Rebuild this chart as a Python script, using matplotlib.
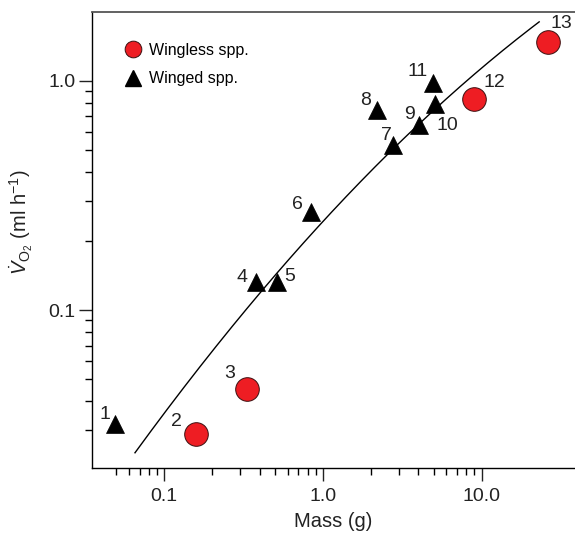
import matplotlib
matplotlib.use("Agg")
import numpy as np
import matplotlib.pyplot as plt
from matplotlib.lines import Line2D
from matplotlib.ticker import FixedLocator, FixedFormatter, NullFormatter

plt.rcParams['font.family'] = ['Liberation Sans', 'DejaVu Sans']
plt.rcParams['mathtext.fontset'] = 'custom'
plt.rcParams['mathtext.rm'] = 'Liberation Sans'
plt.rcParams['mathtext.it'] = 'Liberation Sans:italic'
plt.rcParams['mathtext.bf'] = 'Liberation Sans:bold'

# ---- data ----
wingless_ids = [2, 3, 12, 13]
wingless_mass = [0.158, 0.330, 9.0, 26.4]
wingless_vo2 = [0.0288, 0.0452, 0.832, 1.479]

winged_ids = [1, 4, 5, 6, 7, 8, 9, 10, 11]
winged_mass = [0.049, 0.376, 0.514, 0.837, 2.77, 2.19, 4.02, 5.11, 4.92]
winged_vo2 = [0.0317, 0.1324, 0.1324, 0.2676, 0.524, 0.745, 0.639, 0.793, 0.982]

# points
fit_mass = [0.0654, 0.160, 0.259, 0.419, 0.953, 1.966, 3.037, 5.97, 9.67, 23.07]
fit_vo2 = [0.0241, 0.0530, 0.0818, 0.1264, 0.2348, 0.3947, 0.5157, 0.852, 1.151, 1.767]

x_ticks = [0.1, 1.0, 10.0]
x_tick_labels = ["0.1", "1.0", "10.0"]
y_ticks = [0.1, 1.0]
y_tick_labels = ["0.1", "1.0"]
x_minor = [0.05, 0.06, 0.07, 0.08, 0.09, 0.2, 0.3, 0.4, 0.5, 0.6, 0.7, 0.8, 0.9,
           2, 3, 4, 5, 6, 7, 8, 9]
y_minor = [0.03, 0.04, 0.05, 0.06, 0.07, 0.08, 0.09, 0.2, 0.3, 0.4, 0.5, 0.6, 0.7, 0.8, 0.9]

# label offsets (pixels) for number annotations
offsets = {1: (-10, 10), 2: (-19, 12), 3: (-17, 16), 4: (-14, 5), 5: (13, 6),
           6: (-13, 7), 7: (-7, 10), 8: (-11, 10), 9: (-9, 11), 10: (12, -22),
           11: (-15, 11), 12: (20, 17), 13: (13, 18)}

RED = '#EE1D23'

fig = plt.figure(figsize=(5.75, 5.36), dpi=100)
ax = fig.add_axes([0.1595, 0.1263, 1.0 - 0.1595, 0.8519])
ax.set_xscale('log')
ax.set_yscale('log')
ax.set_xlim(0.0349, 38.8)
ax.set_ylim(0.0204, 2.0)

# smooth curve through the read points (quadratic in log-log space)
lx = np.log10(fit_mass)
ly = np.log10(fit_vo2)
coef = np.polyfit(lx, ly, 2)
xs = np.linspace(lx[0], lx[-1], 200)
ax.plot(10 ** xs, 10 ** np.polyval(coef, xs), color='black', lw=1.0, zorder=2)

ax.plot(winged_mass, winged_vo2, ls='none', marker='^', ms=13.2, color='black',
        mec='black', mew=0.5, zorder=3)
ax.plot(wingless_mass, wingless_vo2, ls='none', marker='o', ms=17, color=RED,
        mec='#3a1010', mew=0.7, zorder=3)

for i, m, v in zip(winged_ids, winged_mass, winged_vo2):
    ax.annotate(str(i), (m, v), xytext=offsets[i], textcoords='offset pixels',
                ha='center', va='center', fontsize=14, color='#222222')
for i, m, v in zip(wingless_ids, wingless_mass, wingless_vo2):
    ax.annotate(str(i), (m, v), xytext=offsets[i], textcoords='offset pixels',
                ha='center', va='center', fontsize=14, color='#222222')

ax.xaxis.set_major_locator(FixedLocator(x_ticks))
ax.xaxis.set_major_formatter(FixedFormatter(x_tick_labels))
ax.xaxis.set_minor_locator(FixedLocator(x_minor))
ax.xaxis.set_minor_formatter(NullFormatter())
ax.yaxis.set_major_locator(FixedLocator(y_ticks))
ax.yaxis.set_major_formatter(FixedFormatter(y_tick_labels))
ax.yaxis.set_minor_locator(FixedLocator(y_minor))
ax.yaxis.set_minor_formatter(NullFormatter())

ax.tick_params(which='major', direction='out', length=9.5, width=1, labelsize=14,
               colors='#222222', top=False, right=False)
ax.tick_params(which='minor', direction='out', length=5, width=1, top=False, right=False)
ax.tick_params(axis='x', which='major', pad=5)
ax.tick_params(axis='y', which='major', pad=2)

ax.spines['right'].set_visible(False)
ax.spines['top'].set_color('#555555')
ax.spines['top'].set_linewidth(1.3)
ax.spines['left'].set_linewidth(1.0)
ax.spines['bottom'].set_linewidth(1.0)

ax.set_xlabel('Mass (g)', fontsize=14.5, color='#222222', labelpad=5)
ax.set_ylabel(r'$\dot{V}_{\mathrm{O_2}}$ (ml h$^{-1}$)', fontsize=14.5, color='#222222')
ax.yaxis.set_label_coords(-0.118, 0.54)

handles = [
    Line2D([], [], ls='none', marker='o', ms=12, color=RED, mec='#3a1010', mew=0.7),
    Line2D([], [], ls='none', marker='^', ms=11, color='black'),
]
ax.legend(handles, ['Wingless spp.', 'Winged spp.'], loc='upper left',
          bbox_to_anchor=(0.059, 0.946), frameon=False, fontsize=11.5,
          handlelength=0.8, handletextpad=0.6, labelspacing=0.85, borderaxespad=0)

fig.savefig('out.png', dpi=100)
